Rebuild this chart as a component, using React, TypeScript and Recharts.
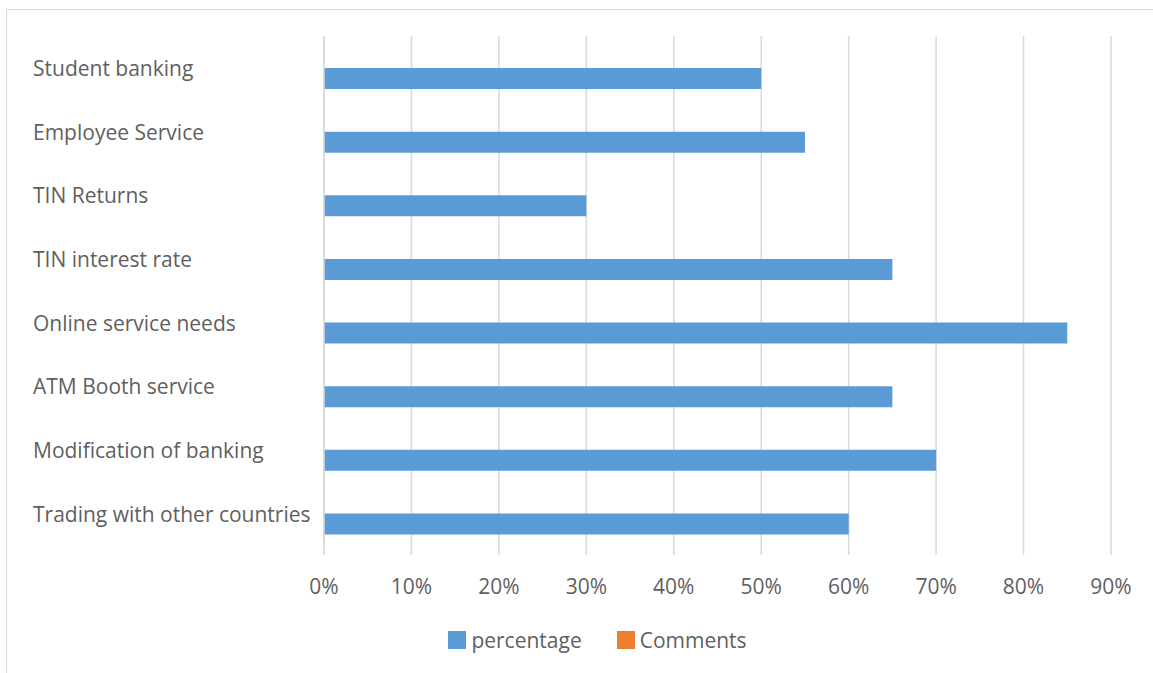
import React from "react";
import { BarChart, Bar, XAxis, YAxis, CartesianGrid, Legend } from "recharts";

const categories = [
  "Student banking",
  "Employee Service",
  "TIN Returns",
  "TIN interest rate",
  "Online service needs",
  "ATM Booth service",
  "Modification of banking",
  "Trading with other countries",
];
const percentage = [0.5, 0.55, 0.3, 0.65, 0.85, 0.65, 0.7, 0.6];
const comments: (number | null)[] = [null, null, null, null, null, null, null, null];
const xTicks = [0, 0.1, 0.2, 0.3, 0.4, 0.5, 0.6, 0.7, 0.8, 0.9];

const BLUE = "#5B9BD5";
const ORANGE = "#ED7D31";
const GRID = "#D9D9D9";
const TEXT = "#5f5f5f";
const FONT = "'Open Sans', sans-serif";
const FS = 21;

const data = categories.map((name, i) => ({
  name,
  percentage: percentage[i],
  comments: comments[i],
}));

const legendItems = [
  { label: "percentage", color: BLUE },
  { label: "Comments", color: ORANGE },
];

function CategoryTick(props: any) {
  const { y, payload } = props;
  return (
    <text x={33} y={y + 1} dy="0.35em" textAnchor="start" fill={TEXT} fontSize={FS} fontFamily={FONT}>
      {payload.value}
    </text>
  );
}

function LegendBox() {
  return (
    <div style={{ height: 24, paddingLeft: 84, display: "flex", justifyContent: "center", alignItems: "center", gap: 35, fontFamily: FONT, fontSize: FS, color: TEXT }}>
      {legendItems.map(it => (
        <div key={it.label} style={{ display: "flex", alignItems: "center" }}>
          <span style={{ width: 18, height: 18, background: it.color, display: "inline-block", marginRight: 5 }} />
          <span>{it.label}</span>
        </div>
      ))}
    </div>
  );
}

export default function App() {
  return (
    <div style={{ position: "absolute", left: 0, top: 0, width: 1153, height: 673, overflow: "hidden", background: "#fff" }}>
      <div style={{ position: "absolute", left: 6, top: 9, width: 1200, height: 700, border: "1px solid #DADADA" }} />
      <div style={{ position: "absolute", left: 0, top: 0 }}>
        <BarChart
          width={1153}
          height={673}
          data={data}
          layout="vertical"
          margin={{ top: 36, right: 42, bottom: 21, left: 0 }}
          barGap={0}
        >
          <CartesianGrid horizontal={false} stroke={GRID} strokeWidth={1.5} />
          <XAxis
            type="number"
            domain={[0, 0.9]}
            ticks={xTicks}
            tickFormatter={(v: number) => `${Math.round(v * 100)}%`}
            axisLine={false}
            tickLine={{ stroke: GRID, strokeWidth: 1.5 }}
            tickSize={10}
            tickMargin={24}
            height={83}
            tick={{ fill: TEXT, fontSize: FS, fontFamily: FONT }}
          />
          <YAxis
            type="category"
            dataKey="name"
            width={324}
            axisLine={{ stroke: GRID, strokeWidth: 1.5 }}
            tickLine={false}
            tick={<CategoryTick />}
          />
          <Legend verticalAlign="bottom" content={() => <LegendBox />} />
          <Bar dataKey="comments" name="Comments" fill={ORANGE} barSize={21} isAnimationActive={false} />
          <Bar dataKey="percentage" name="percentage" fill={BLUE} barSize={21} isAnimationActive={false} />
        </BarChart>
      </div>
    </div>
  );
}
